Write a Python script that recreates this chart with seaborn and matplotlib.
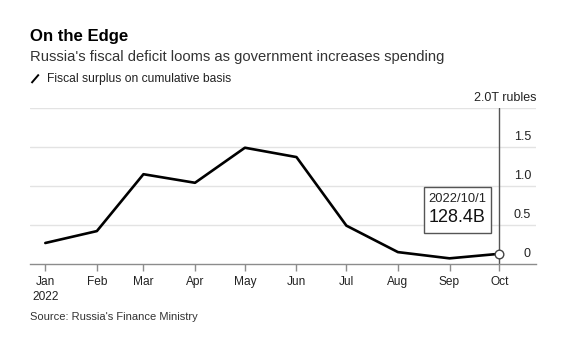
import matplotlib
matplotlib.use("Agg")
import matplotlib.pyplot as plt
from matplotlib.lines import Line2D
import matplotlib.transforms as mtransforms
import pandas as pd
import seaborn as sns

# Cumulative fiscal surplus, trillion rubles, first day of each month
dates = ["2022-01-01", "2022-02-01", "2022-03-01", "2022-04-01", "2022-05-01",
         "2022-06-01", "2022-07-01", "2022-08-01", "2022-09-01", "2022-10-01"]
surplus = [0.267, 0.42, 1.15, 1.04, 1.49, 1.37, 0.49, 0.15, 0.07, 0.1284]
month_labels = ["Jan\n2022", "Feb", "Mar", "Apr", "May", "Jun", "Jul", "Aug", "Sep", "Oct"]
y_ticks = [0, 0.5, 1.0, 1.5, 2.0]
y_tick_labels = ["0", "0.5", "1.0", "1.5", "2.0T rubles"]

df = pd.DataFrame({"date": pd.to_datetime(dates), "surplus": surplus})

sns.set_theme(style="white")
plt.rcParams["font.family"] = ["Liberation Sans", "DejaVu Sans"]

W, H = 581, 343
fig = plt.figure(figsize=(W / 100, H / 100), dpi=100)
ax_left, ax_right, ax_top, ax_bottom = 30, 536, 108, 263.8
ax = fig.add_axes([ax_left / W, 1 - ax_bottom / H,
                   (ax_right - ax_left) / W, (ax_bottom - ax_top) / H])

sns.lineplot(data=df, x="date", y="surplus", ax=ax, color="black",
             linewidth=1.9, zorder=3)

# Axis ranges
x0 = df["date"].iloc[0]
ax.set_xlim(x0 - pd.Timedelta(days=9.2), x0 + pd.Timedelta(days=295))
ax.set_ylim(0, 2.0)

for s in ["top", "right", "left"]:
    ax.spines[s].set_visible(False)
ax.spines["bottom"].set_color("#8c8c8c")
ax.spines["bottom"].set_linewidth(1.0)

# Horizontal gridlines with labels sitting above them on the right
for v in y_ticks:
    if v > 0:
        ax.axhline(v, color="#e3e3e3", linewidth=1.0, zorder=0)
ax.set_yticks([])
trans = mtransforms.blended_transform_factory(ax.transAxes, ax.transData)
for v, lab in zip(y_ticks, y_tick_labels):
    xpos = 1.0 if v == 2.0 else (531 - ax_left) / (ax_right - ax_left)
    ax.text(xpos, v + 0.045, lab, transform=trans, ha="right", va="bottom",
            fontsize=9.0, color="#222222")

# Month ticks
ax.set_xticks(df["date"])
ax.set_xticklabels(month_labels, fontsize=8.6, color="#222222", linespacing=1.25)
ax.tick_params(axis="x", length=5, width=1, color="#8c8c8c", pad=4, direction="out",
               bottom=True)
ax.set_xlabel("")
ax.set_ylabel("")

# Cursor line and highlighted point at the latest value
last_date = df["date"].iloc[-1]
last_val = df["surplus"].iloc[-1]
ax.axvline(last_date, ymin=0, ymax=1, color="#555555", linewidth=1.0, zorder=2)
ax.plot([last_date], [last_val], marker="o", markersize=6.2, markerfacecolor="white",
        markeredgecolor="#444444", markeredgewidth=1.0, zorder=5, clip_on=False)

# Value callout box
bx0, bx1, by0, by1 = 424, 491, 187, 232.7
fig.patches.append(plt.Rectangle((bx0 / W, 1 - by1 / H), (bx1 - bx0) / W, (by1 - by0) / H,
                                 transform=fig.transFigure, facecolor="white",
                                 edgecolor="#555555", linewidth=1.0, zorder=6))
fig.text((bx0 + bx1) / 2 / W, 1 - 199 / H, last_date.strftime("%Y/%-m/%-d"),
         ha="center", va="center", fontsize=9.3, color="#222222", zorder=7)
fig.text((bx0 + bx1) / 2 / W, 1 - 217 / H, f"{last_val * 1000:.1f}B",
         ha="center", va="center", fontsize=13, color="#111111", zorder=7)

# Headings
fig.text(30 / W, 1 - 41 / H, "On the Edge", ha="left", va="baseline",
         fontsize=12.1, fontweight="bold", color="#000000")
fig.text(30 / W, 1 - 60.5 / H,
         "Russia's fiscal deficit looms as government increases spending",
         ha="left", va="baseline", fontsize=10.6, color="#333333")
fig.add_artist(Line2D([31.5 / W, 38.8 / W], [1 - 83 / H, 1 - 74.5 / H],
                      transform=fig.transFigure, color="black", linewidth=1.4,
                      solid_capstyle="butt"))
fig.text(47 / W, 1 - 81.8 / H, "Fiscal surplus on cumulative basis",
         ha="left", va="baseline", fontsize=8.7, color="#222222")
fig.text(30 / W, 1 - 320.3 / H, "Source: Russia's Finance Ministry",
         ha="left", va="baseline", fontsize=8.0, color="#333333")

fig.savefig("out.png", dpi=100, facecolor="white")
